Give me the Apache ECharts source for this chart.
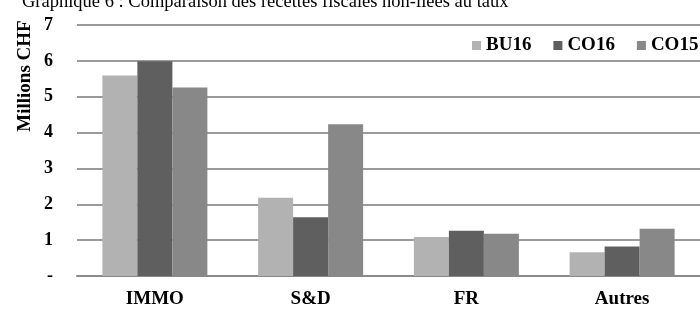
<!DOCTYPE html>
<html>
<head>
<meta charset="utf-8">
<script src="https://cdn.jsdelivr.net/npm/echarts@6/dist/echarts.min.js"></script>
<style>
  html, body { margin: 0; padding: 0; background: #fff; }
  #chart { width: 700px; height: 309px; }
</style>
</head>
<body>
<div id="chart"></div>
<script>
  // valeurs en millions CHF
  const categories = ['IMMO', 'S&D', 'FR', 'Autres']
  const bu16 = [5.59, 2.18, 1.09, 0.66]
  const co16 = [5.99, 1.64, 1.26, 0.82]
  const co15 = [5.26, 4.23, 1.18, 1.32]
  const yTicks = [0, 1, 2, 3, 4, 5, 6, 7]

  const serif = 'Liberation Serif'
  const chart = echarts.init(document.getElementById('chart'))

  function barSeries(name, data, color) {
    return {
      name: name,
      type: 'bar',
      barWidth: 35,
      barGap: '0%',
      itemStyle: {color: color},
      data: data
    }
  }

  chart.setOption({
    animation: false,
    title: {
      text: 'Graphique 6 : Comparaison des recettes fiscales non-liées au taux',
      left: 22,
      top: -7,
      padding: 0,
      textStyle: {fontFamily: serif, fontWeight: 'normal', fontSize: 18.5, color: '#000'}
    },
    legend: {
      left: 472,
      top: 36,
      padding: 0,
      itemWidth: 9,
      itemHeight: 9,
      itemGap: 22,
      icon: 'rect',
      textStyle: {fontFamily: serif, fontWeight: 'bold', fontSize: 19, color: '#000'},
      data: ['BU16', 'CO16', 'CO15']
    },
    graphic: [{
      type: 'text',
      x: 25,
      y: 76,
      rotation: Math.PI / 2,
      style: {
        text: 'Millions CHF',
        align: 'center',
        verticalAlign: 'middle',
        font: 'bold 19px "Liberation Serif"',
        fill: '#000'
      }
    }],
    grid: {left: 77, right: -7, top: 25, bottom: 33, containLabel: false},
    xAxis: {
      type: 'category',
      data: categories,
      axisTick: {show: false},
      axisLine: {lineStyle: {color: '#8a8a8a', width: 2}},
      axisLabel: {margin: 14, fontFamily: serif, fontWeight: 'bold', fontSize: 19, color: '#000'}
    },
    yAxis: {
      type: 'value',
      min: yTicks[0],
      max: yTicks[yTicks.length - 1],
      interval: 1,
      axisLine: {show: false},
      axisTick: {show: false},
      splitLine: {lineStyle: {color: '#9a9a9a', width: 2}},
      axisLabel: {
        margin: 24,
        fontFamily: serif,
        fontWeight: 'bold',
        fontSize: 18,
        color: '#000',
        formatter: v => v === 0 ? '-' : String(v)
      }
    },
    series: [
      barSeries('BU16', bu16, '#b2b2b2'),
      barSeries('CO16', co16, '#5f5f5f'),
      barSeries('CO15', co15, '#888888')
    ]
  })
</script>
</body>
</html>
